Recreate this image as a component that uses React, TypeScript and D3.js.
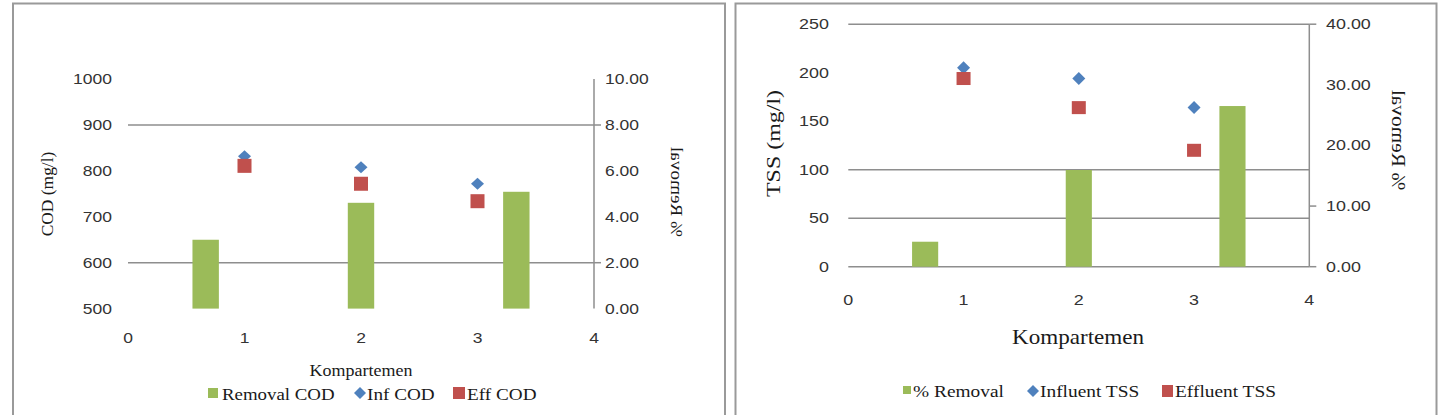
import React from "react";
import * as d3 from "d3";

// ---------- DATA ----------
const compartments = ["1", "2", "3"];
const xTicks = [0, 1, 2, 3, 4];

// Left chart (COD)
const codYTicks = [500, 600, 700, 800, 900, 1000];
const codGridTicks = [600, 900];
const codRemovalTicks = [0, 2, 4, 6, 8, 10];
const codRightTickMarks = [2, 8];
const removalCOD = [3.0, 4.61, 5.09];
const infCOD = [832, 808, 772];
const effCOD = [811, 772, 734];

// Right chart (TSS)
const tssYTicks = [0, 50, 100, 150, 200, 250];
const tssGridTicks = [0, 50, 100, 250];
const tssRemovalTicks = [0, 10, 20, 30, 40];
const tssRightTickMarks = [0, 10, 40];
const removalTSS = [4.12, 15.95, 26.5];
const infTSS = [205, 194, 164];
const effTSS = [194, 164, 120];

const GREEN = "#9BBB59";
const BLUE = "#4F81BD";
const RED = "#C0504D";
const GRID = "#8e8e8e";
const SANS = "'Liberation Sans', Arial, sans-serif";
const SERIF = "'Liberation Serif', 'Times New Roman', serif";

type TProps = {
  x: number; y: number; size: number; family: string; anchor?: string;
  sx?: number; rot?: number; mirror?: boolean; central?: boolean; fill?: string;
  children: React.ReactNode;
};
function T({ x, y, size, family, anchor = "start", sx = 1, rot = 0, mirror = false, central = false, fill = "#1a1a1a", children }: TProps) {
  return (
    <g transform={`translate(${x},${y}) rotate(${rot}) scale(${sx},${mirror ? -1 : 1})`}>
      <text textAnchor={anchor} fontSize={size} fontFamily={family} fill={fill} dy={central ? "0.35em" : 0}>
        {children}
      </text>
    </g>
  );
}

function Diamond({ cx, cy, w, h, fill }: { cx: number; cy: number; w: number; h: number; fill: string }) {
  const p = d3.path();
  p.moveTo(cx, cy - h / 2);
  p.lineTo(cx + w / 2, cy);
  p.lineTo(cx, cy + h / 2);
  p.lineTo(cx - w / 2, cy);
  p.closePath();
  return <path d={p.toString()} fill={fill} />;
}

type ChartCfg = {
  x0: number; x1: number; yTop: number; yBot: number;
  leftDomain: [number, number]; rightDomain: [number, number];
  leftTicks: number[]; gridTicks: number[]; rightTicks: number[]; rightTickMarks: number[];
  removal: number[]; inf: number[]; eff: number[];
  leftLabelX: number; rightLabelX: number; xLabelY: number; tickSize: number; tickSx: number;
  rightFmt: (v: number) => string; drawZeroAxis: boolean;
  mw: number; mh: number; sqW: number; sqH: number;
};

function Chart(c: ChartCfg) {
  const x = d3.scaleLinear().domain([0, 4]).range([c.x0, c.x1]);
  const yL = d3.scaleLinear().domain(c.leftDomain).range([c.yBot, c.yTop]);
  const yR = d3.scaleLinear().domain(c.rightDomain).range([c.yBot, c.yTop]);
  const band = d3.scaleBand().domain(compartments).range([c.x0, c.x1]).paddingInner(0.83).paddingOuter(0.415);
  return (
    <g>
      {c.gridTicks.map((t) => (
        <line key={"g" + t} x1={c.x0} x2={c.x1} y1={yL(t)} y2={yL(t)} stroke={GRID} strokeWidth={1.5} />
      ))}
      {c.rightTickMarks.map((t) => (
        <line key={"rt" + t} x1={c.x1} x2={c.x1 + 7} y1={yR(t)} y2={yR(t)} stroke={GRID} strokeWidth={1.5} />
      ))}
      <line x1={c.x1} x2={c.x1} y1={c.yTop} y2={c.yBot} stroke={GRID} strokeWidth={1.5} />
      {compartments.map((k, i) => (
        <rect key={"b" + k} x={band(k)} width={band.bandwidth()} y={yR(c.removal[i])} height={yR(0) - yR(c.removal[i])} fill={GREEN} />
      ))}
      {compartments.map((k, i) => (
        <Diamond key={"d" + k} cx={x(+k)} cy={yL(c.inf[i])} w={c.mw} h={c.mh} fill={BLUE} />
      ))}
      {compartments.map((k, i) => (
        <rect key={"s" + k} x={x(+k) - c.sqW / 2} y={yL(c.eff[i]) - c.sqH / 2} width={c.sqW} height={c.sqH} fill={RED} />
      ))}
      {c.leftTicks.map((t) => (
        <T key={"yl" + t} x={c.leftLabelX} y={yL(t)} size={c.tickSize} family={SANS} anchor="end" sx={c.tickSx} central fill="#333">
          {String(t)}
        </T>
      ))}
      {c.rightTicks.map((t) => (
        <T key={"yr" + t} x={c.rightLabelX} y={yR(t)} size={c.tickSize} family={SANS} sx={c.tickSx} central fill="#333">
          {c.rightFmt(t)}
        </T>
      ))}
      {xTicks.map((t) => (
        <T key={"x" + t} x={x(t)} y={c.xLabelY} size={c.tickSize} family={SANS} anchor="middle" sx={c.tickSx} fill="#333">
          {String(t)}
        </T>
      ))}
    </g>
  );
}

export default function App() {
  const fmt2 = (v: number) => d3.format(".2f")(v);
  return (
    <svg width={1447} height={415} style={{ position: "absolute", left: 0, top: 0, background: "#fff" }}>
      <rect x={0} y={0} width={1447} height={415} fill="#fff" />
      {/* panel frames */}
      <rect x={13} y={3.5} width={712} height={430} fill="none" stroke="#9a9a9a" strokeWidth={2} />
      <rect x={735.5} y={3.5} width={701} height={430} fill="none" stroke="#9a9a9a" strokeWidth={2} />

      <Chart
        x0={128} x1={594} yTop={79.1} yBot={308.6}
        leftDomain={[500, 1000]} rightDomain={[0, 10]}
        leftTicks={codYTicks} gridTicks={codGridTicks} rightTicks={codRemovalTicks} rightTickMarks={codRightTickMarks}
        removal={removalCOD} inf={infCOD} eff={effCOD}
        leftLabelX={112} rightLabelX={605} xLabelY={343} tickSize={14} tickSx={1.25}
        rightFmt={fmt2} drawZeroAxis={false}
        mw={13} mh={12} sqW={14} sqH={14}
      />
      <Chart
        x0={848.3} x1={1309.3} yTop={24.2} yBot={266.7}
        leftDomain={[0, 250]} rightDomain={[0, 40]}
        leftTicks={tssYTicks} gridTicks={tssGridTicks} rightTicks={tssRemovalTicks} rightTickMarks={tssRightTickMarks}
        removal={removalTSS} inf={infTSS} eff={effTSS}
        leftLabelX={829} rightLabelX={1326} xLabelY={305} tickSize={14} tickSx={1.28}
        rightFmt={fmt2} drawZeroAxis={true}
        mw={13} mh={13} sqW={14} sqH={13}
      />

      {/* Left chart titles */}
      <T x={47} y={194} size={16} family={SERIF} anchor="middle" rot={-90} sx={1.09} central>COD (mg/l)</T>
      <T x={676.5} y={192} size={16} family={SERIF} anchor="middle" rot={-90} sx={1.2} mirror central>% Removal</T>
      <T x={361} y={376} size={16.5} family={SERIF} anchor="middle" sx={1.09}>Kompartemen</T>
      {/* Left legend */}
      <rect x={208} y={388} width={10} height={10} fill={GREEN} />
      <T x={222} y={400} size={17} family={SERIF} sx={1.11}>Removal COD</T>
      <Diamond cx={360} cy={393} w={12} h={12} fill={BLUE} />
      <T x={367} y={400} size={17} family={SERIF} sx={1.13}>Inf COD</T>
      <rect x={453} y={387} width={12} height={12} fill={RED} />
      <T x={467} y={400} size={17} family={SERIF} sx={1.13}>Eff COD</T>

      {/* Right chart titles */}
      <T x={773.5} y={143.5} size={19} family={SERIF} anchor="middle" rot={-90} sx={1.26} central>TSS (mg/l)</T>
      <T x={1398.5} y={140} size={18} family={SERIF} anchor="middle" rot={-90} sx={1.19} mirror central>% Removal</T>
      <T x={1078} y={344} size={21} family={SERIF} anchor="middle" sx={1.1}>Kompartemen</T>
      {/* Right legend */}
      <rect x={903} y={386} width={8} height={8} fill={GREEN} />
      <T x={913} y={397} size={17} family={SERIF} sx={1.14}>% Removal</T>
      <Diamond cx={1033} cy={391} w={12} h={12} fill={BLUE} />
      <T x={1040} y={397} size={17} family={SERIF} sx={1.14}>Influent TSS</T>
      <rect x={1162} y={385} width={11} height={12} fill={RED} />
      <T x={1175} y={397} size={17} family={SERIF} sx={1.14}>Effluent TSS</T>
    </svg>
  );
}
